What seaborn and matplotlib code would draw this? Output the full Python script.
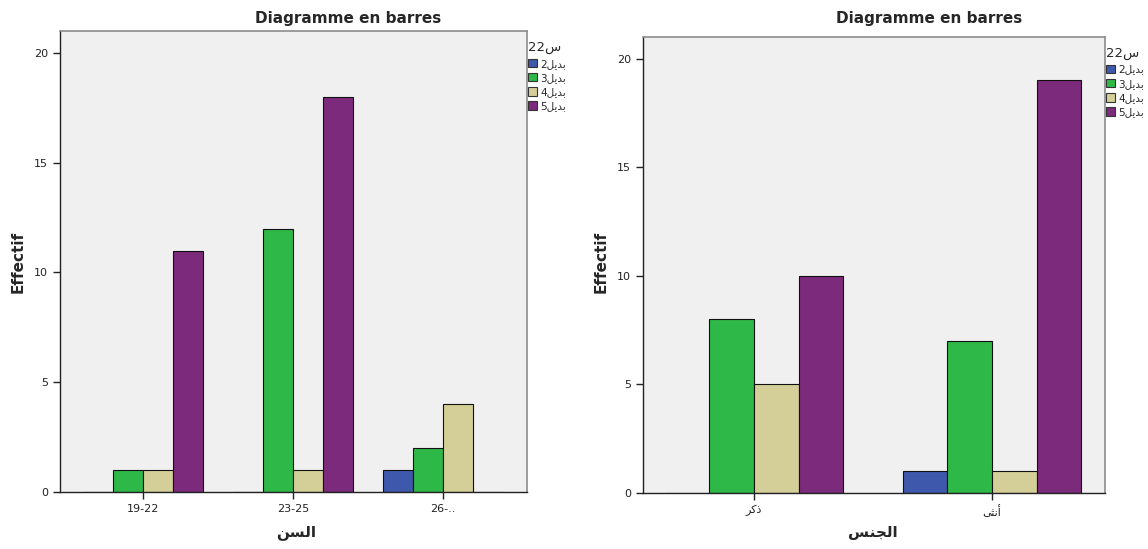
import pandas as pd
import matplotlib
matplotlib.use("Agg")
import matplotlib.pyplot as plt
import seaborn as sns
from matplotlib.patches import Patch

# Arabic words written with presentation forms, in visual (left-to-right) order,
# because matplotlib does no shaping / bidi on its own
SINN = "\uFEE6\uFEB4\uFEDF\uFE8D"          # السن
JINS = "\uFEB2\uFEE8\uFEA0\uFEDF\uFE8D"    # الجنس
DHAKAR = "\uFEAE\uFEDB\uFEAB"              # ذكر
UNTHA = "\uFEF0\uFE9C\uFEE7\uFE83"         # أنثى
BADIL = "\uFEDE\uFEF3\uFEAA\uFE91"         # بديل
LEGEND_TITLE = "22\uFEB1"                  # س22

options = ["2", "3", "4", "5"]
option_colors = ["#3E58AC", "#2EB848", "#D4CF98", "#7C2A7B"]

# counts by age group
age_groups = ["19-22", "23-25", "26-.."]
age_opt2 = [0, 0, 1]
age_opt3 = [1, 12, 2]
age_opt4 = [1, 1, 4]
age_opt5 = [11, 18, 0]

# counts by sex
sex_groups = [DHAKAR, UNTHA]
sex_opt2 = [0, 1]
sex_opt3 = [8, 7]
sex_opt4 = [5, 1]
sex_opt5 = [10, 19]


def to_long(groups, series):
    rows = []
    for opt, vals in zip(options, series):
        for g, v in zip(groups, vals):
            rows.append({"group": g, "option": opt, "count": v})
    return pd.DataFrame(rows)


age_df = to_long(age_groups, [age_opt2, age_opt3, age_opt4, age_opt5])
sex_df = to_long(sex_groups, [sex_opt2, sex_opt3, sex_opt4, sex_opt5])

sns.set_style("white")
plt.rcParams["font.family"] = ["DejaVu Sans"]

fig = plt.figure(figsize=(11.48, 5.49), dpi=100)
W, H = 1148, 549


def axes_px(l, t, r, b):
    return fig.add_axes([l / W, 1 - b / H, (r - l) / W, (b - t) / H])


ax1 = axes_px(60, 31, 527, 492)
ax2 = axes_px(643, 37, 1105, 493)

panels = [
    (ax1, age_df, age_groups, 0.8, (-0.553, 2.56), SINN, 348, 296),
    (ax2, sex_df, sex_groups, 0.75, (-0.466, 1.475), JINS, 929, 873),
]

for ax, df, groups, width, xlim, xlabel, title_x, xlabel_x in panels:
    sns.barplot(data=df, x="group", y="count", hue="option", order=groups,
                hue_order=options, palette=option_colors, saturation=1,
                width=width, edgecolor="#111111", linewidth=0.8, ax=ax,
                legend=False)
    ax.set_facecolor("#F0F0F0")
    ax.set_xlim(*xlim)
    ax.set_ylim(0, 21)
    ax.set_yticks([0, 5, 10, 15, 20])
    ax.set_xlabel("")
    ax.set_ylabel("")
    for side in ["top", "right"]:
        ax.spines[side].set_color("#8C8C8C")
        ax.spines[side].set_linewidth(1.2)
    for side in ["left", "bottom"]:
        ax.spines[side].set_color("#222222")
        ax.spines[side].set_linewidth(1.0)
    ax.tick_params(axis="both", direction="out", length=5, width=1,
                   labelsize=8, colors="#222222", left=True, bottom=True)

    handles = [Patch(facecolor=c, edgecolor="#333333", linewidth=0.8)
               for c in option_colors]
    labels = [f"{o}{BADIL}" for o in options]
    leg = ax.legend(handles, labels, title=LEGEND_TITLE, loc="upper left",
                    bbox_to_anchor=(1.0, 0.98), frameon=False, fontsize=7.5,
                    title_fontsize=9.5, handlelength=0.9, handleheight=0.9,
                    handletextpad=0.3, labelspacing=0.4, borderaxespad=0.0,
                    borderpad=0.1)
    leg._legend_box.align = "left"

    fig.text(title_x / W, 1 - 18 / H, "Diagramme en barres", ha="center",
             va="center", fontsize=11, fontweight="bold")
    fig.text(xlabel_x / W, 1 - 532 / H, xlabel, ha="center", va="center",
             fontsize=11, fontweight="bold")

fig.text(18 / W, 1 - 262 / H, "Effectif", rotation=90, ha="center",
         va="center", fontsize=11, fontweight="bold")
fig.text(601 / W, 1 - 262 / H, "Effectif", rotation=90, ha="center",
         va="center", fontsize=11, fontweight="bold")

fig.savefig("out.png", dpi=100)
